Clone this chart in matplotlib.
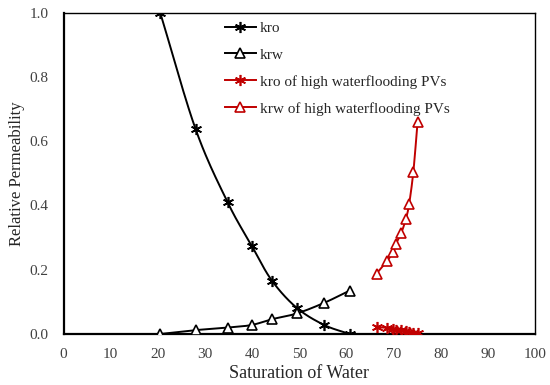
import numpy as np
import matplotlib
matplotlib.use("Agg")
import matplotlib.pyplot as plt

sw_base = [20.5, 28.0, 34.8, 39.9, 44.2, 49.5, 55.3, 60.7]
kro_base = [1.0, 0.638, 0.41, 0.275, 0.166, 0.081, 0.028, 0.0]
krw_base = [0.0, 0.012, 0.020, 0.028, 0.046, 0.064, 0.097, 0.135]

sw_high = [66.4, 68.7, 69.9, 70.5, 71.6, 72.6, 73.3, 74.2, 75.1]
kro_high = [0.022, 0.019, 0.016, 0.013, 0.011, 0.008, 0.006, 0.004, 0.002]
krw_high = [0.188, 0.228, 0.256, 0.280, 0.313, 0.357, 0.404, 0.505, 0.660]

labels = ["kro", "krw", "kro of high waterflooding PVs", "krw of high waterflooding PVs"]
xticks = [0, 10, 20, 30, 40, 50, 60, 70, 80, 90, 100]
yticks = [0.0, 0.2, 0.4, 0.6, 0.8, 1.0]

plt.rcParams['font.family'] = ['Liberation Serif', 'DejaVu Serif']


def smooth(x, y, n=20):
    x = np.asarray(x, float); y = np.asarray(y, float)
    P = np.column_stack([x, y])
    P = np.vstack([P[0] - (P[1] - P[0]), P, P[-1] + (P[-1] - P[-2])])
    out = []
    for i in range(1, len(P) - 2):
        p0, p1, p2, p3 = P[i - 1], P[i], P[i + 1], P[i + 2]
        t = np.linspace(0, 1, n, endpoint=False)[:, None]
        c = 0.5 * ((2 * p1) + (-p0 + p2) * t + (2 * p0 - 5 * p1 + 4 * p2 - p3) * t ** 2
                   + (-p0 + 3 * p1 - 3 * p2 + p3) * t ** 3)
        out.append(c)
    out.append(P[-2][None, :])
    c = np.vstack(out)
    return c[:, 0], c[:, 1]


fig = plt.figure(figsize=(5.5, 3.85), dpi=100)
ax = fig.add_axes([63.5 / 550, 1 - 334 / 385, (535 - 63.5) / 550, (334 - 12.5) / 385])

star = (6, 2, 0)
red = '#C00000'

series = [
    (sw_base, kro_base, 'black', star, labels[0]),
    (sw_base, krw_base, 'black', '^', labels[1]),
    (sw_high, kro_high, red, star, labels[2]),
    (sw_high, krw_high, red, '^', labels[3]),
]
handles = []
for x, y, col, m, lab in series:
    sx, sy = smooth(x, y)
    ax.plot(sx, sy, color=col, lw=1.4, zorder=2)
    if m == '^':
        ax.plot(x, y, ls='none', marker='^', ms=7, mfc='white', mec=col, mew=1.2, zorder=3)
    else:
        ax.plot(x, y, ls='none', marker=m, ms=8, mec=col, mew=1.2, zorder=3)
    h, = ax.plot([], [], color=col, lw=1.4, marker=m, ms=7 if m == '^' else 8,
                 mfc='white' if m == '^' else col, mec=col, mew=1.2)
    handles.append(h)

ax.set_xlim(0, 100)
ax.set_ylim(0, 1.0)
ax.set_xticks(xticks)
ax.set_yticks(yticks)
ax.set_yticklabels([f"{v:.1f}" for v in yticks])
ax.tick_params(axis='both', length=0, labelsize=11, colors='#404040')
ax.tick_params(axis='y', pad=11)
ax.tick_params(axis='x', pad=10)
for s in ax.spines.values():
    s.set_color('black')
    s.set_linewidth(1.0)
ax.spines['left'].set_linewidth(1.6)
ax.spines['bottom'].set_linewidth(1.6)

ax.set_xlabel("Saturation of Water", fontsize=13, color='#262626', labelpad=3)
ax.set_ylabel("Relative Permeability", fontsize=12, color='#262626', labelpad=3)

leg = ax.legend(handles, labels, loc='upper left', bbox_to_anchor=(0.3425, 0.973),
                frameon=False, fontsize=11, handlelength=2.0, labelspacing=0.86,
                handletextpad=0.3, borderaxespad=0.0, borderpad=0.0)
for t in leg.get_texts():
    t.set_color('#262626')

fig.savefig("out.png", dpi=100)
